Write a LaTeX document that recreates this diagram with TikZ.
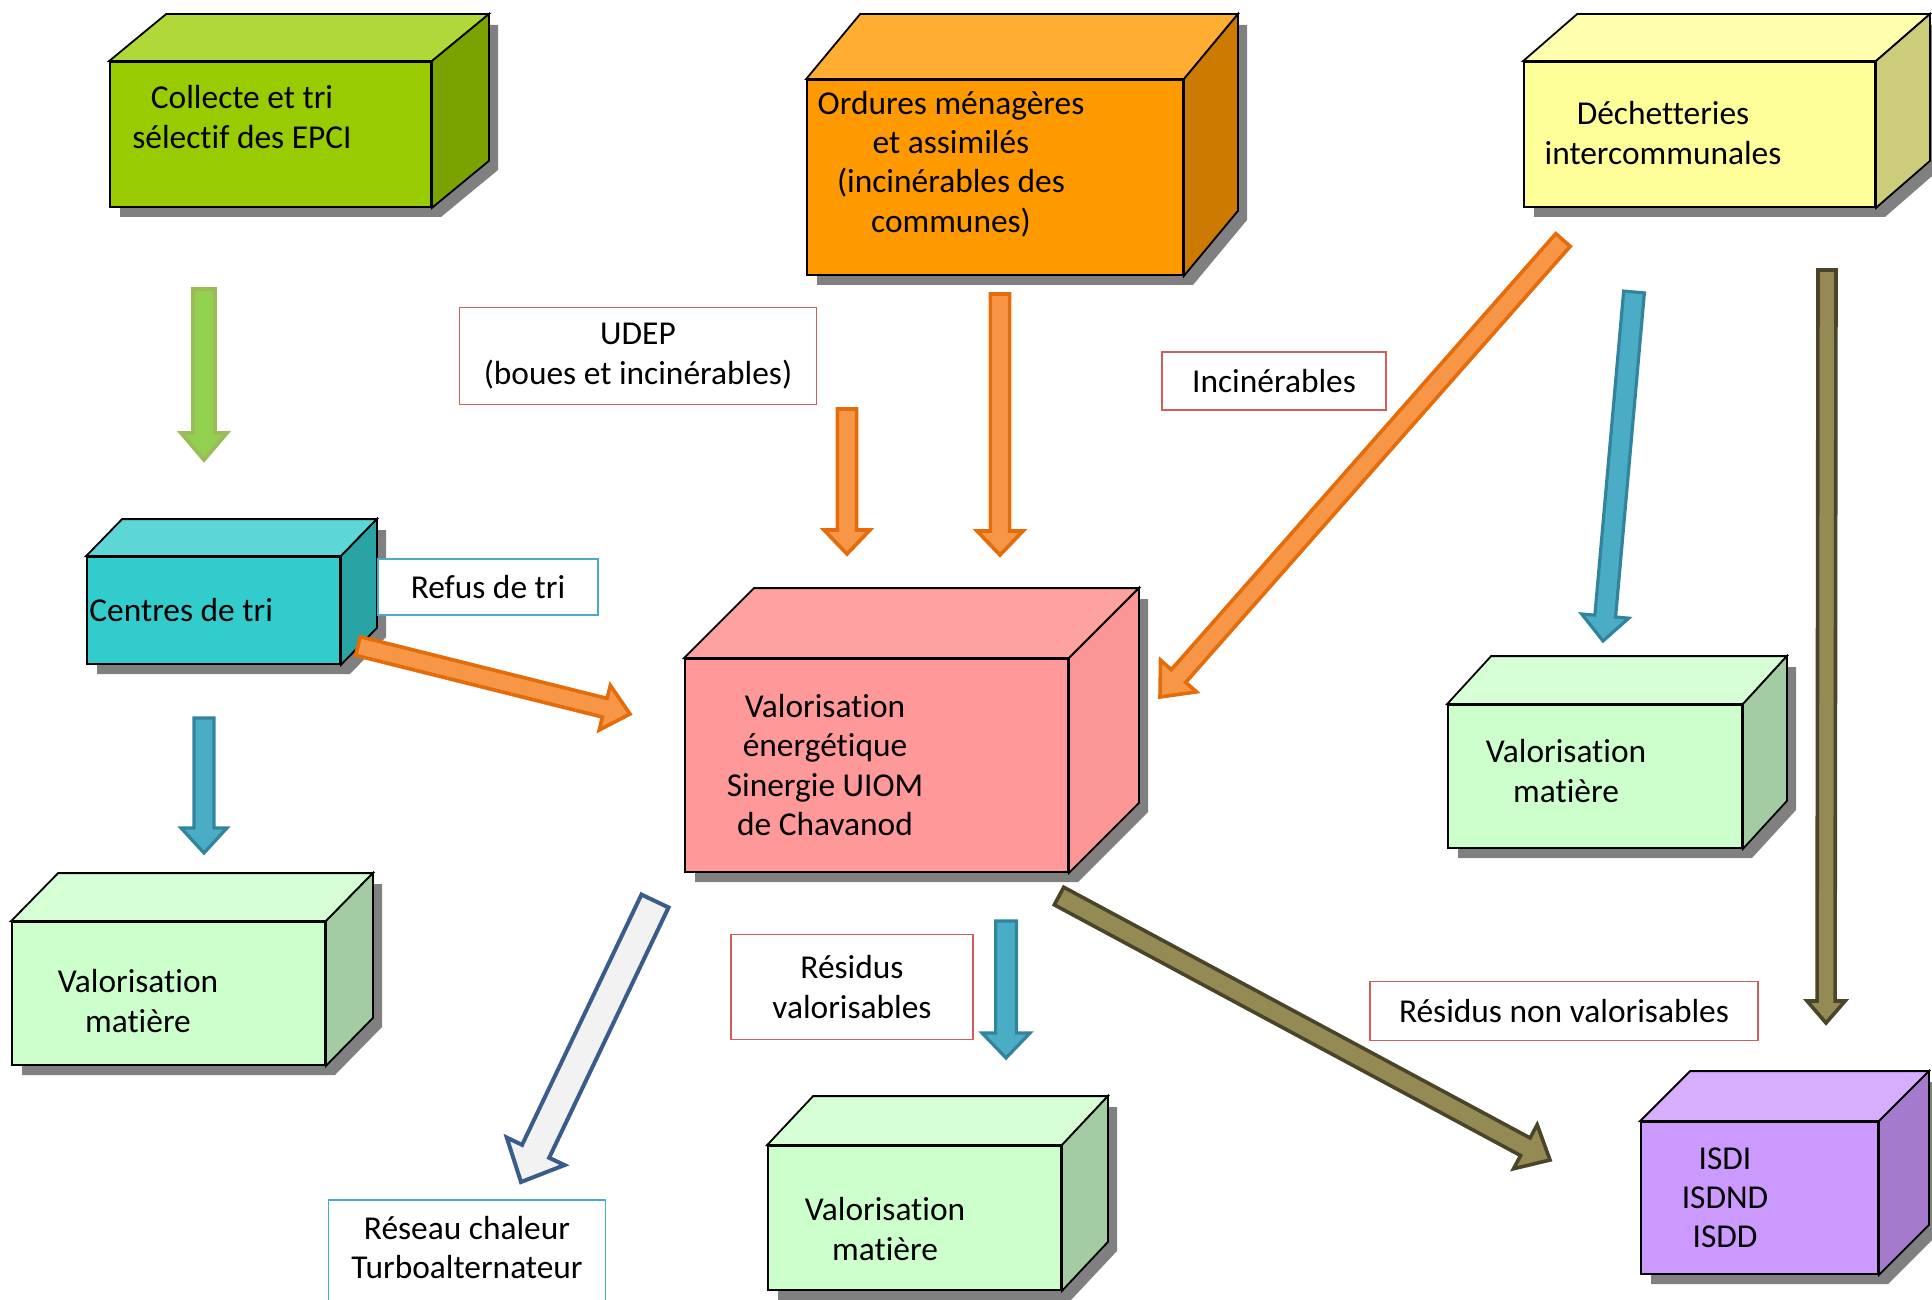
\documentclass[tikz,border=0pt]{standalone}
\usepackage{fontspec}
\setmainfont{Carlito}[Ligatures=NoCommon]
\usetikzlibrary{calc, fit}

\definecolor{vertF}{HTML}{99CC00}
\definecolor{vertT}{HTML}{B0D838}
\definecolor{vertS}{HTML}{7AA300}
\definecolor{orangeF}{HTML}{FF9900}
\definecolor{orangeT}{HTML}{FFAD33}
\definecolor{orangeS}{HTML}{CC7A00}
\definecolor{jauneF}{HTML}{FFFF99}
\definecolor{jauneT}{HTML}{FFFFAD}
\definecolor{jauneS}{HTML}{CCCC7A}
\definecolor{cyanF}{HTML}{33CCCC}
\definecolor{cyanT}{HTML}{5CD6D6}
\definecolor{cyanS}{HTML}{29A3A3}
\definecolor{roseF}{HTML}{FF9999}
\definecolor{roseT}{HTML}{FFA1A1}
\definecolor{roseS}{HTML}{FA9696}
\definecolor{clairF}{HTML}{CCFFCC}
\definecolor{clairT}{HTML}{D6FFD6}
\definecolor{clairS}{HTML}{A3CCA3}
\definecolor{violetF}{HTML}{CC99FF}
\definecolor{violetT}{HTML}{D6ADFF}
\definecolor{violetS}{HTML}{A37ACC}
\definecolor{cadreRouge}{HTML}{CD5F5C}
\definecolor{cadreBleu}{HTML}{4BACC6}
\definecolor{flVert}{HTML}{92D050}
\definecolor{flVertB}{HTML}{9BBB59}
\definecolor{flOrange}{HTML}{F79646}
\definecolor{flOrangeB}{HTML}{E46C0A}
\definecolor{flBleu}{HTML}{4BACC6}
\definecolor{flBleuB}{HTML}{31849B}
\definecolor{flOlive}{HTML}{948A54}
\definecolor{flOliveB}{HTML}{4A452A}
\definecolor{flBlanc}{HTML}{F2F2F2}
\definecolor{flBlancB}{HTML}{385D8A}

% cube: nom, face avant (x1,y1,x2,y2), profondeur (dx,dy), couleur
\newcommand{\cube}[8]{%
  \fill[ombre] (#2+10,#5+10) -- (#2+10,#3+10) -- (#2+#6+10,#3+#7+10) -- (#4+#6+10,#3+#7+10)
    -- (#4+#6+10,#5+#7+10) -- (#4+10,#5+10) -- cycle;
  \node[face, fill=#8F, fit={(#2,#3) (#4,#5)}] (#1) {};
  \draw[face, fill=#8T] (#1.north west) -- ++(#6,#7) -- ([shift={(#6,#7)}]#1.north east) -- (#1.north east) -- cycle;
  \draw[face, fill=#8S] (#1.north east) -- ++(#6,#7) -- ([shift={(#6,#7)}]#1.south east) -- (#1.south east) -- cycle;
}

% fleche pleine: style, depart, arrivee, demi-largeur, demi-tete, longueur tete
\newcommand{\fleche}[6]{%
  \path ($(#3)!#6!(#2)$) coordinate (base);
  \draw[#1] ($(#2)!#4!90:(#3)$) -- ($(base)!#4!90:(#3)$) -- ($(base)!#5!90:(#3)$) -- (#3)
    -- ($(base)!#5!-90:(#3)$) -- ($(base)!#4!-90:(#3)$) -- ($(#2)!#4!-90:(#3)$) -- cycle;
}

\begin{document}
\begin{tikzpicture}[x=0.5pt, y=-0.5pt,
  face/.style={draw=black, line width=0.9pt, inner sep=0pt},
  ombre/.style={fill=black!50},
  txt/.style={align=center, inner sep=0pt, font=\fontsize{16.7}{19.6}\selectfont},
  etiquette/.style={draw, line width=0.9pt, fill=white, align=center, inner sep=0pt,
    font=\fontsize{16.7}{19.6}\selectfont},
  fvert/.style={fill=flVert, draw=flVertB, line width=1.8pt, line join=miter},
  forange/.style={fill=flOrange, draw=flOrangeB, line width=1.8pt, line join=miter},
  fbleu/.style={fill=flBleu, draw=flBleuB, line width=1.6pt, line join=miter},
  folive/.style={fill=flOlive, draw=flOliveB, line width=1.8pt, line join=miter},
  fblanc/.style={fill=flBlanc, draw=flBlancB, line width=2pt, line join=miter}]
\useasboundingbox (0,0) rectangle (1932,1300);

% cubes
\cube{collecte}{110}{62}{431}{207}{57}{-47}{vert}
\cube{ordures}{807}{80}{1183}{275}{54}{-65}{orange}
\cube{dechet}{1524}{62}{1875}{207}{54}{-47}{jaune}
\cube{centres}{87}{557}{340}{664}{36}{-37}{cyan}
\cube{energie}{685}{659}{1068}{872}{70}{-70}{rose}
\cube{matD}{1448}{705}{1742}{848}{44}{-48}{clair}
\cube{matG}{12}{922}{325}{1065}{47}{-48}{clair}
\cube{matB}{768}{1146}{1061}{1290}{46}{-49}{clair}
\cube{isd}{1641}{1122}{1878}{1274}{50}{-50}{violet}

\node[txt] (collecte-t) at (242,117) {Collecte et tri\\sélectif des EPCI};
\node[txt] (ordures-t) at (951,164) {Ordures ménagères\\et assimilés\\(incinérables des\\communes)};
\node[txt] (dechet-t) at (1663,133) {Déchetteries\\intercommunales};
\node[txt, anchor=west] (centres-t) at (89,610) {Centres de tri};
\node[txt] (energie-t) at (825,765) {Valorisation\\énergétique\\Sinergie UIOM\\de Chavanod};
\node[txt] (matD-t) at (1566,771) {Valorisation\\matière};
\node[txt] (matG-t) at (138,1001) {Valorisation\\matière};
\node[txt] (matB-t) at (885,1229) {Valorisation\\matière};
\node[txt] (isd-t) at (1725,1198) {ISDI\\ISDND\\ISDD};

% etiquettes
\node[etiquette, draw=cadreRouge, minimum width=178.5pt, minimum height=48.5pt] (udep) at (638,356) {UDEP\\(boues et incinérables)};
\node[etiquette, draw=cadreRouge, minimum width=112pt, minimum height=29pt] (incin) at (1274,381) {Incinérables};
\node[etiquette, draw=cadreBleu, minimum width=110pt, minimum height=28pt] (refus) at (488,587) {Refus de tri};
\node[etiquette, draw=cadreBleu, minimum width=138.5pt, minimum height=55pt, text depth=8pt] (reseau) at (467,1255) {Réseau chaleur\\Turboalternateur};
\node[etiquette, draw=cadreRouge, minimum width=121pt, minimum height=52.5pt] (resval) at (852,987) {Résidus\\valorisables};
\node[etiquette, draw=cadreRouge, minimum width=194pt, minimum height=29.5pt] (resnon) at (1564,1011) {Résidus non valorisables};

% fleches
\coordinate (v1) at (204,289);
\coordinate (v2) at (204,460);
\coordinate (c1) at (204,718);
\coordinate (c2) at (204,853);
\coordinate (u1) at (847,409);
\coordinate (u2) at (847,554);
\coordinate (o1) at (1000,294);
\coordinate (o2) at (1000,555);
\coordinate (d1) at (1563,240);
\coordinate (d2) at (1160,697);
\coordinate (r1) at (358,646);
\coordinate (r2) at (630,714);
\coordinate (b1) at (1634,292);
\coordinate (b2) at (1603,641);
\coordinate (k1) at (1827,270);
\coordinate (k2) at (1826,1023);
\coordinate (w1) at (655,901);
\coordinate (w2) at (521,1182);
\coordinate (e1) at (1006,921);
\coordinate (e2) at (1006,1058);
\coordinate (s1) at (1059,896);
\coordinate (s2) at (1550,1160);

\fleche{fvert}{v1}{v2}{5.5pt}{11.5pt}{13.5pt}
\fleche{fbleu}{c1}{c2}{5pt}{11.5pt}{12.5pt}
\fleche{forange}{u1}{u2}{4.8pt}{11.5pt}{12pt}
\fleche{forange}{o1}{o2}{4.8pt}{11.5pt}{12pt}
\fleche{forange}{d1}{d2}{4.8pt}{12pt}{14pt}
\fleche{forange}{r1}{r2}{4.8pt}{11.5pt}{13pt}
\fleche{fbleu}{b1}{b2}{5.2pt}{11.8pt}{12.5pt}
\fleche{folive}{k1}{k2}{4.5pt}{9.5pt}{11pt}
\fleche{fblanc}{w1}{w2}{7.5pt}{16pt}{17pt}
\fleche{fbleu}{e1}{e2}{5.2pt}{12pt}{12.5pt}
\fleche{folive}{s1}{s2}{5pt}{12.5pt}{14pt}
\end{tikzpicture}
\end{document}
